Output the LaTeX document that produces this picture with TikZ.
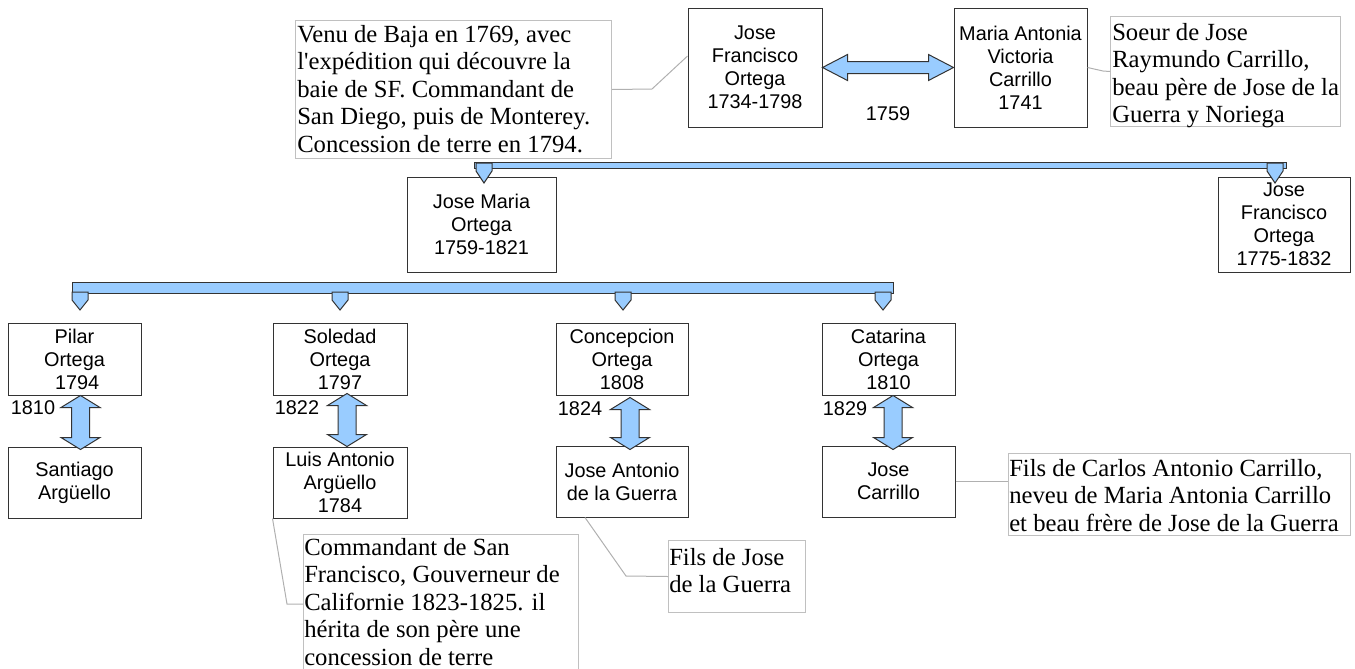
\documentclass[tikz,border=0pt]{standalone}
\usepackage{fontspec}
\setmainfont{Liberation Serif}
\newfontfamily\seriff{Liberation Serif}
\newfontfamily\sansf{Liberation Sans}
\usetikzlibrary{calc}
\definecolor{lblue}{HTML}{99CCFF}
\definecolor{cgray}{HTML}{C0C0C0}
\definecolor{lgray}{HTML}{B0B0B0}
\definecolor{dgray}{HTML}{333333}
\newcommand\vmarry[2]{%
  \draw[bluefill] (#1) -- ([shift={(19.5,12)}]#1) -- ([shift={(9,12)}]#1)
    -- ([shift={(9,-12)}]#2) -- ([shift={(19.5,-12)}]#2) -- (#2)
    -- ([shift={(-19.5,-12)}]#2) -- ([shift={(-9,-12)}]#2)
    -- ([shift={(-9,12)}]#1) -- ([shift={(-19.5,12)}]#1) -- cycle;}
\newcommand\dmarker[3]{%
  \draw[bluefill] ({#1-8},#2) -- ({#1+8},#2) -- ({#1+8},{#2+8}) -- (#1,#3) -- ({#1-8},{#2+8}) -- cycle;}
\begin{document}
\begin{tikzpicture}[x=0.75pt,y=-0.75pt,
  person/.style={draw=dgray, line width=0.75pt, fill=white, inner sep=0pt, align=center,
    font=\sansf\fontsize{14.9}{17.25}\selectfont},
  cbox/.style={draw=cgray, line width=0.75pt, inner sep=0pt, anchor=north west},
  ctext/.style={inner sep=0pt, anchor=north west, align=left,
    font=\seriff\fontsize{18.5}{20.6}\selectfont},
  yearlbl/.style={inner sep=0pt, font=\sansf\fontsize{14.9}{17.25}\selectfont},
  leader/.style={draw=lgray, line width=0.75pt},
  bluefill/.style={fill=lblue, draw=dgray, line width=0.75pt, line join=miter},
]
\useasboundingbox (0,0) rectangle (1355,668);

% persons
\node[person, minimum width=100.5pt, minimum height=89.25pt] (jfo) at (755,67.5) {Jose\\Francisco\\Ortega\\1734-1798};
\node[person, minimum width=99.75pt, minimum height=89.25pt] (maria) at (1020.5,67.5) {Maria Antonia\\Victoria\\Carrillo\\1741};
\node[person, minimum width=111.75pt, minimum height=71.25pt] (jmo) at (481.5,224.5) {Jose Maria\\Ortega\\1759-1821};
\node[person, minimum width=99pt, minimum height=71.25pt] (jfo2) at (1284,224.5) {Jose\\Francisco\\Ortega\\1775-1832};
\node[person, minimum width=99.75pt, minimum height=54pt] (pilar) at (74.5,359) {Pilar\\Ortega\\\hspace*{4pt}1794};
\node[person, minimum width=99.75pt, minimum height=53.25pt] (santiago) at (74.5,482.5) {Santiago\\Argüello};
\node[person, minimum width=100.5pt, minimum height=54pt] (soledad) at (340,359) {Soledad\\Ortega\\1797};
\node[person, minimum width=100.5pt, minimum height=53.25pt] (luis) at (340,482.5) {Luis Antonio\\Argüello\\1784};
\node[person, minimum width=99pt, minimum height=54pt] (concepcion) at (622,359) {Concepcion\\Ortega\\1808};
\node[person, minimum width=99pt, minimum height=53.25pt] (joseantonio) at (622,481.5) {Jose Antonio\\de la Guerra};
\node[person, minimum width=99.75pt, minimum height=54pt] (catarina) at (888.5,359) {Catarina\\Ortega\\1810};
\node[person, minimum width=99.75pt, minimum height=53.25pt] (josecarrillo) at (888.5,481.5) {Jose\\Carrillo};

% comments
\node[cbox, minimum width=237pt, minimum height=103.5pt] (venu) at (295,20) {};
\node[ctext] (venut) at (297,25) {Venu de Baja en 1769, avec\\l'expédition qui découvre la\\baie de SF. Commandant de\\San Diego, puis de Monterey.\\Concession de terre en 1794.};
\node[cbox, minimum width=172.5pt, minimum height=82.5pt] (soeur) at (1110,16) {};
\node[ctext] (soeurt) at (1112,23) {Soeur de Jose\\Raymundo Carrillo,\\beau père de Jose de la\\Guerra y Noriega};
\node[cbox, minimum width=256.5pt, minimum height=61.5pt] (filscarlos) at (1008,453) {};
\node[ctext] (filscarlost) at (1009,459) {Fils de Carlos Antonio Carrillo,\\neveu de Maria Antonia Carrillo\\et beau frère de Jose de la Guerra};
\node[cbox, minimum width=102.75pt, minimum height=54pt] (filsjose) at (668,540) {};
\node[ctext] (filsjoset) at (669,548) {Fils de Jose\\de la Guerra};
\node[cbox, minimum width=206.25pt, minimum height=112.5pt] (commandant) at (303,534) {};
\node[ctext] (commandantt) at (304,538) {Commandant de San\\Francisco, Gouverneur de\\Californie 1823-1825. il\\hérita de son père une\\concession de terre};

% leaders
\draw[leader] (venu.east) -- (652,89) -- ([yshift=8.6pt]jfo.west);
\draw[leader] (maria.east) -- (1103,71) -- (soeur.west);
\draw[leader] (luis.south west) -- (287,604) -- (commandant.west |- 0,604);
\draw[leader] ([xshift=-27.75pt]joseantonio.south) -- (626,576) -- (filsjose.west);
\draw[leader] (josecarrillo.east) -- (josecarrillo.east -| filscarlos.west);

% family bars
\draw[bluefill] (474,162) rectangle (1286,168);
\dmarker{484}{163}{183}
\dmarker{1275}{163}{183}
\draw[bluefill] (72,282) rectangle (893,293);
\dmarker{80}{292}{310}
\dmarker{340}{292}{310}
\dmarker{623}{292}{310}
\dmarker{883}{292}{310}

% marriage arrows
\draw[bluefill] (jfo.east) -- ([shift={(25,-13)}]jfo.east) -- ([shift={(25,-6)}]jfo.east)
  -- ([shift={(-25,-6)}]maria.west) -- ([shift={(-25,-13)}]maria.west) -- (maria.west)
  -- ([shift={(-25,13)}]maria.west) -- ([shift={(-25,6)}]maria.west)
  -- ([shift={(25,6)}]jfo.east) -- ([shift={(25,13)}]jfo.east) -- cycle;
\coordinate (a1t) at ([xshift=4.5pt]pilar.south);
\coordinate (a1b) at ([xshift=4.5pt,yshift=-2.25pt]santiago.north);
\coordinate (a2t) at ([xshift=5.25pt,yshift=1.5pt]soledad.south);
\coordinate (a2b) at ([xshift=5.25pt]luis.north);
\coordinate (a3t) at ([xshift=6pt,yshift=-1.5pt]concepcion.south);
\coordinate (a3b) at ([xshift=6pt,yshift=-3pt]joseantonio.north);
\coordinate (a4t) at ([xshift=3.4pt]catarina.south);
\coordinate (a4b) at ([xshift=3.4pt,yshift=-3pt]josecarrillo.north);
\vmarry{a1t}{a1b}
\vmarry{a2t}{a2b}
\vmarry{a3t}{a3b}
\vmarry{a4t}{a4b}

% year labels
\node[yearlbl] (y1759) at (888,114) {1759};
\node[yearlbl] (y1810) at (33,408) {1810};
\node[yearlbl] (y1822) at (297,408) {1822};
\node[yearlbl] (y1824) at (580,409) {1824};
\node[yearlbl] (y1829) at (845,409) {1829};
\end{tikzpicture}
\end{document}
